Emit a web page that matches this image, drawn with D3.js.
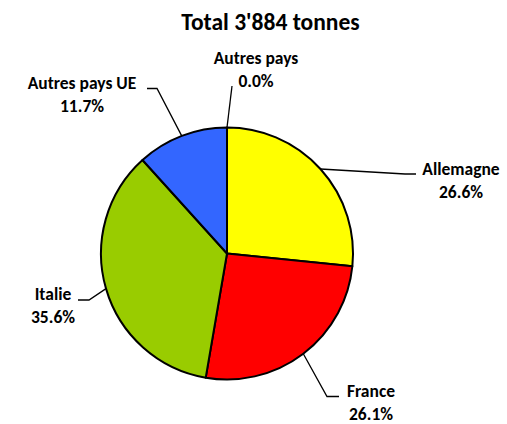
<!DOCTYPE html>
<html>
<head>
<meta charset="utf-8">
<script src="https://cdn.jsdelivr.net/npm/d3@7"></script>
<style>
  body { margin: 0; background: #fff; }
  text { font-family: Carlito, Calibri, Lato, sans-serif; font-weight: bold; fill: #000; }
</style>
</head>
<body>
<div id="chart"></div>
<script>
// data
var categories = ["Allemagne", "France", "Italie", "Autres pays UE", "Autres pays"];
var shares = [26.6, 26.1, 35.6, 11.7, 0.0];
var colors = ["#FFFF00", "#FF0000", "#99CC00", "#3366FF", "#A0A0A0"];
var title = "Total 3'884 tonnes";

// where each label sits: centre x, first line baseline, leader elbow and end
var labelLayout = {
  "Allemagne":      { x: 461, y: 174.5, elbow: [405, 174], end: [416, 174] },
  "France":         { x: 371, y: 396.5, elbow: [327, 396.5], end: [339, 396.5] },
  "Italie":         { x: 53,  y: 300, elbow: [89, 300],  end: [78, 300] },
  "Autres pays UE": { x: 82,  y: 88.5, elbow: [157, 88.5], end: [147, 88.5] },
  "Autres pays":    { x: 256, y: 63.5, elbow: [232, 86],  end: [232, 86] }
};

var width = 507, height = 424;
var cx = 227, cy = 253.5, radius = 126;

var svg = d3.select("#chart").append("svg")
    .attr("width", width)
    .attr("height", height);

svg.append("text")
    .attr("x", 270.5)
    .attr("y", 29.5)
    .attr("text-anchor", "middle")
    .style("font-size", "23.5px")
    .text(title);

var data = categories.map(function(c, i) {
    return { name: c, value: shares[i], color: colors[i] };
});

var pie = d3.pie()
    .sort(null)
    .value(function(d) { return d.value; });

var arc = d3.arc().innerRadius(0).outerRadius(radius);

var g = svg.append("g")
    .attr("transform", "translate(" + cx + "," + cy + ")");

var arcs = pie(data);

g.selectAll("path.slice")
    .data(arcs.filter(function(d) { return d.data.value > 0; }))
  .enter().append("path")
    .attr("class", "slice")
    .attr("d", arc)
    .attr("fill", function(d) { return d.data.color; })
    .attr("stroke", "#000")
    .attr("stroke-width", 2)
    .attr("stroke-linejoin", "round");

// leader lines start on the rim at the middle of each slice
arcs.forEach(function(d) {
    var lay = labelLayout[d.data.name];
    var mid = (d.startAngle + d.endAngle) / 2;
    var ax = cx + radius * Math.sin(mid);
    var ay = cy - radius * Math.cos(mid);
    svg.append("path")
        .attr("d", "M" + ax + "," + ay + "L" + lay.elbow[0] + "," + lay.elbow[1] + "L" + lay.end[0] + "," + lay.end[1])
        .attr("fill", "none")
        .attr("stroke", "#000")
        .attr("stroke-width", 1.3);

    var t = svg.append("text")
        .attr("text-anchor", "middle")
        .style("font-size", "17.5px");
    t.append("tspan")
        .attr("x", lay.x)
        .attr("y", lay.y)
        .text(d.data.name);
    t.append("tspan")
        .attr("x", lay.x)
        .attr("y", lay.y + 23)
        .text(d3.format(".1f")(d.data.value) + "%");
});
</script>
</body>
</html>
